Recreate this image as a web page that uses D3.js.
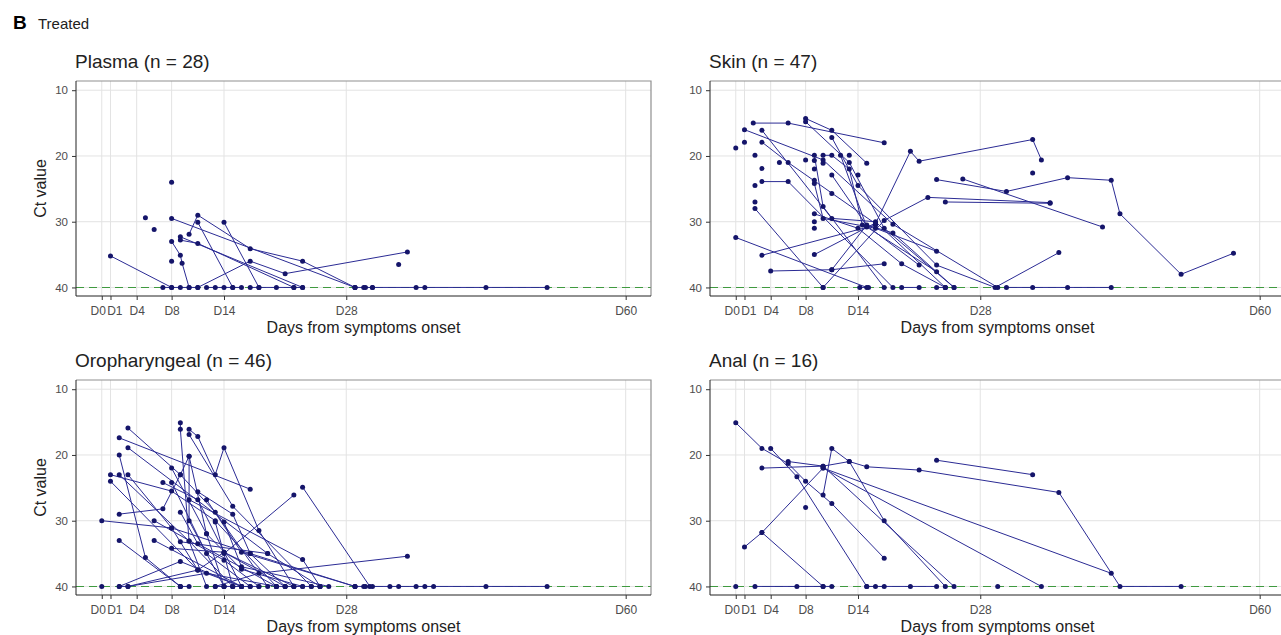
<!DOCTYPE html>
<html>
<head>
<meta charset="utf-8">
<script src="https://cdn.jsdelivr.net/npm/d3@7"></script>
<style>
  body { margin: 0; background: #fff; }
  svg { display: block; font-family: "Liberation Sans", Arial, sans-serif; }
</style>
</head>
<body>
<svg id="chart" width="1281" height="635"></svg>
<script>
// axis ticks
const tickDays = [0, 1, 4, 8, 14, 28, 60];
const tickLabels = ["D0", "D1", "D4", "D8", "D14", "D28", "D60"];
const ctTicks = [10, 20, 30, 40];
const panelNames = ["Plasma (n = 28)", "Skin (n = 47)", "Oropharyngeal (n = 46)", "Anal (n = 16)"];

// each patient: list of [day, Ct]
const plasma = [
  [[1, 35.2], [8, 40]],
  [[5, 29.4]],
  [[6, 31.2]],
  [[8, 24]],
  [[8, 29.5], [29, 40]],
  [[8, 33], [9, 35.1], [9.2, 36.3], [10, 40]],
  [[8, 36]],
  [[9, 32.3], [23, 40]],
  [[9, 32.8], [11, 33.3], [22, 40]],
  [[10, 31.9], [11, 29], [17, 34.1], [23, 36], [29, 40]],
  [[11, 30.1], [15, 40]],
  [[14, 30.1], [18, 40]],
  [[11, 40], [17, 36], [21, 37.9], [35, 34.6]],
  [[34, 36.5]],
  [[7, 40], [8, 40], [9, 40], [10, 40], [11, 40]],
  [[12, 40], [13, 40], [14, 40], [15, 40], [16, 40]],
  [[17, 40], [18, 40], [20, 40], [22, 40], [23, 40]],
  [[29, 40], [30, 40], [30.2, 40], [31, 40]],
  [[31, 40], [36, 40], [37, 40], [44, 40], [51, 40]]
];

const skin = [
  [[2, 15], [6, 15], [17, 18]],
  [[1, 16], [10, 20.6], [18, 30.4], [30, 40]],
  [[3, 16.1], [11, 29.5], [16, 30], [24, 40]],
  [[3, 17.9], [6, 21], [16, 30.3], [20, 19.3], [21, 20.8], [34, 17.5], [35, 20.6]],
  [[3, 23.9], [6, 23.9], [18, 40]],
  [[8, 14.3], [11, 16.1], [15, 21.1]],
  [[8, 14.8], [13, 21], [17, 31], [25, 40]],
  [[2.2, 28], [10, 40]],
  [[0, 32.4], [15, 40]],
  [[3, 35.1], [16, 30.5]],
  [[4, 37.5], [11, 37.3], [17, 36.4]],
  [[9, 35], [16, 30.2]],
  [[10, 40], [17, 29.8], [22, 26.3], [36, 27.1]],
  [[11, 17.2], [14, 24.5], [23, 36.6], [29.7, 40], [37, 34.7]],
  [[11, 22.9], [15, 30.6], [21, 36.6]],
  [[12, 19.9], [15, 30.8], [23, 37.6]],
  [[9, 19.9], [10, 27.7], [17, 40]],
  [[9, 28.8], [14, 31], [19, 36.4], [24, 40]],
  [[11, 37.3], [15, 30.5], [18, 31.7], [25, 40]],
  [[23, 23.6], [31, 25.4], [38, 23.3], [43, 23.7], [44, 28.8], [51, 38], [57, 34.8]],
  [[26, 23.5], [42, 30.8]],
  [[24, 27], [36, 27.2]],
  [[10, 19.9], [11, 19.9], [13, 22], [14.5, 30.5]],
  [[9, 24.2], [10, 29.5], [16, 31], [23, 34.5]],
  [[34, 22.6]],
  [[0, 18.8]],
  [[1, 17.9]],
  [[2.2, 19.9]],
  [[3, 21.9]],
  [[2.2, 24.5]],
  [[2.2, 27]],
  [[5, 21]],
  [[8, 20.6]],
  [[9, 20.7]],
  [[9, 22]],
  [[9, 23.7]],
  [[9, 31]],
  [[10, 21.1]],
  [[11, 25.7]],
  [[13, 19.9]],
  [[14, 22.9]],
  [[9, 30]],
  [[14.2, 40], [15.2, 40]],
  [[19, 40], [21, 40]],
  [[23, 40], [24, 40]],
  [[31, 40], [34, 40], [38, 40], [43, 40]]
];

const oro = [
  [[0, 30], [8, 31.1], [17, 35], [29, 40]],
  [[1, 23], [8, 25.5], [13, 30], [20, 40]],
  [[1, 24], [11, 37.5], [16, 40]],
  [[2, 17.4], [17, 25.2]],
  [[2, 20], [5, 35.6], [9, 40]],
  [[2, 23], [10, 33.1], [15, 40]],
  [[2, 29], [7, 28.2], [9, 23], [10, 20.2], [12, 32], [14, 40]],
  [[2, 33], [9, 40]],
  [[2, 40], [3, 40], [11, 37.5], [14, 34.8], [21, 40]],
  [[3, 15.9], [9, 23], [13, 28.7], [19, 40]],
  [[3, 18.9], [19, 35], [25, 40]],
  [[3, 23], [8, 31.1], [11, 37.5]],
  [[6, 33], [16, 40]],
  [[7, 24.2], [11, 26.8], [16, 40]],
  [[8, 22], [12, 32], [16, 37.4], [23, 40]],
  [[8, 34.2], [14, 34.8], [22, 40]],
  [[9, 15.1], [9, 16.1], [10, 33.1], [12, 40]],
  [[9, 28.7], [11, 33.5], [20, 40]],
  [[10, 16.1], [11, 17.2], [13, 23], [14, 18.9], [18, 31.5], [22, 40]],
  [[10, 16.9], [15, 27.8], [24, 40]],
  [[10, 20.2], [10, 30], [14, 40]],
  [[10, 26.8], [23, 35.9], [25, 40]],
  [[11, 25.6], [15, 29], [17, 35], [21, 40]],
  [[12, 26.8], [16, 34.8], [29, 40]],
  [[13, 30.2], [15, 40]],
  [[14, 30.2], [16, 37], [26, 40]],
  [[14, 35], [22, 26.1]],
  [[23, 24.9], [30.7, 40]],
  [[13, 40], [18, 38], [35, 35.4]],
  [[9, 33.2], [19, 35]],
  [[2, 40], [9, 36.2], [16, 40]],
  [[3, 40], [12, 38], [20, 40]],
  [[6, 30], [14, 36], [18, 40]],
  [[8, 24.2], [12, 35], [17, 40]],
  [[0, 40]],
  [[9, 40], [10, 40]],
  [[13, 40], [14, 40], [15, 40], [16, 40], [17, 40], [18, 40]],
  [[20, 40], [21, 40], [22, 40], [23, 40], [24, 40], [25, 40]],
  [[29, 40], [30, 40], [30.2, 40], [31, 40], [33, 40], [34, 40], [36, 40], [37, 40], [38, 40], [44, 40], [51, 40]]
];

const anal = [
  [[0, 15.1], [3, 19], [6, 21.3], [8, 24], [11, 27.4], [17, 35.7]],
  [[4, 19], [7, 23.3], [15, 40]],
  [[3, 22], [10, 21.7], [13, 21], [15, 21.8], [21, 22.3], [37, 25.7], [44, 40], [51, 40]],
  [[1, 34], [3, 31.8], [10, 22], [43, 38]],
  [[3, 31.8], [10, 40]],
  [[10, 26.1], [11, 19], [13, 21], [17, 30], [24, 40]],
  [[23, 20.8], [34, 23]],
  [[10, 22], [35, 40]],
  [[6, 21], [10, 21.7], [25, 40]],
  [[8, 28]],
  [[0, 40]],
  [[2.2, 40], [7, 40], [10, 40], [11, 40]],
  [[15, 40], [16, 40], [17, 40], [20, 40], [23, 40]],
  [[30, 40]]
];

const svg = d3.select("#chart");
const W = 575, H = 215;
const lineColor = "#2b2b94", pointColor = "#15156a";

const panels = [
  { name: panelNames[0], data: plasma, x: 76, y: 81, ylab: true },
  { name: panelNames[1], data: skin, x: 710, y: 81, ylab: false },
  { name: panelNames[2], data: oro, x: 76, y: 380, ylab: true },
  { name: panelNames[3], data: anal, x: 710, y: 380, ylab: false }
];

// panel tag
svg.append("text").attr("x", 13).attr("y", 29)
  .attr("font-size", 19).attr("font-weight", "bold").text("B");
svg.append("text").attr("x", 38).attr("y", 29)
  .attr("font-size", 15).attr("fill", "#222").text("Treated");

panels.forEach(p => {
  const x = d3.scaleLinear().domain([-2.95, 62.9]).range([0, W]);
  const y = d3.scaleLinear().domain([8.6, 41.3]).range([0, H]);
  const g = svg.append("g").attr("transform", `translate(${p.x},${p.y})`);

  // grid
  g.selectAll(".gx").data(tickDays).enter().append("line")
    .attr("x1", d => x(d)).attr("x2", d => x(d)).attr("y1", 0).attr("y2", H)
    .attr("stroke", "#e3e3e3").attr("stroke-width", 1);
  g.selectAll(".gy").data(ctTicks).enter().append("line")
    .attr("x1", 0).attr("x2", W).attr("y1", d => y(d)).attr("y2", d => y(d))
    .attr("stroke", "#e3e3e3").attr("stroke-width", 1);

  // limit of detection (snapped to the pixel grid so the green stays crisp)
  const lod = Math.round(y(40)) + 0.5;
  g.append("line").attr("x1", 0).attr("x2", W).attr("y1", lod).attr("y2", lod)
    .attr("stroke", "#3f9a3f").attr("stroke-width", 1.2).attr("stroke-dasharray", "8,5");

  const line = d3.line().x(d => x(d[0])).y(d => y(d[1]));
  g.selectAll(".traj").data(p.data.filter(s => s.length > 1)).enter().append("path")
    .attr("d", line).attr("fill", "none")
    .attr("stroke", lineColor).attr("stroke-width", 1);

  g.selectAll(".pt").data(p.data.flat()).enter().append("circle")
    .attr("cx", d => x(d[0])).attr("cy", d => y(d[1])).attr("r", 2.5)
    .attr("fill", pointColor);

  // border and axes
  g.append("path").attr("d", `M0,0H${W}V${H}`).attr("fill", "none")
    .attr("stroke", "#8f8f8f").attr("stroke-width", 1.2);
  g.append("path").attr("d", `M0,0V${H}H${W}`).attr("fill", "none")
    .attr("stroke", "#222").attr("stroke-width", 1);

  const xAxis = d3.axisBottom(x).tickValues(tickDays)
    .tickFormat((d, i) => tickLabels[i]).tickSize(4).tickPadding(6);
  const ax = g.append("g").attr("transform", `translate(0,${H})`).call(xAxis);
  ax.select(".domain").remove();
  ax.selectAll("line").attr("stroke", "#333");
  ax.selectAll("text").attr("font-size", 12).attr("fill", "#4d4d4d")
    .attr("font-family", "Liberation Sans, Arial, sans-serif")
    // D0 and D1 sit one day apart: nudge them so they butt against each other
    .attr("dx", d => d === 0 ? -4 : d === 1 ? 3.8 : 0);

  const yAxis = d3.axisLeft(y).tickValues(ctTicks).tickSize(4).tickPadding(4);
  const ay = g.append("g").call(yAxis);
  ay.select(".domain").remove();
  ay.selectAll("line").attr("stroke", "#333");
  ay.selectAll("text").attr("font-size", 11.5).attr("fill", "#4d4d4d")
    .attr("font-family", "Liberation Sans, Arial, sans-serif");

  // titles
  g.append("text").attr("x", -1).attr("y", -13)
    .attr("font-size", 19).attr("fill", "#222").text(p.name);
  g.append("text").attr("x", W / 2).attr("y", H + 37)
    .attr("text-anchor", "middle").attr("font-size", 16).attr("fill", "#222")
    .text("Days from symptoms onset");
  if (p.ylab) {
    g.append("text")
      .attr("transform", `translate(-30,${H / 2}) rotate(-90)`)
      .attr("text-anchor", "middle").attr("font-size", 16).attr("fill", "#222")
      .text("Ct value");
  }
});
</script>
</body>
</html>
